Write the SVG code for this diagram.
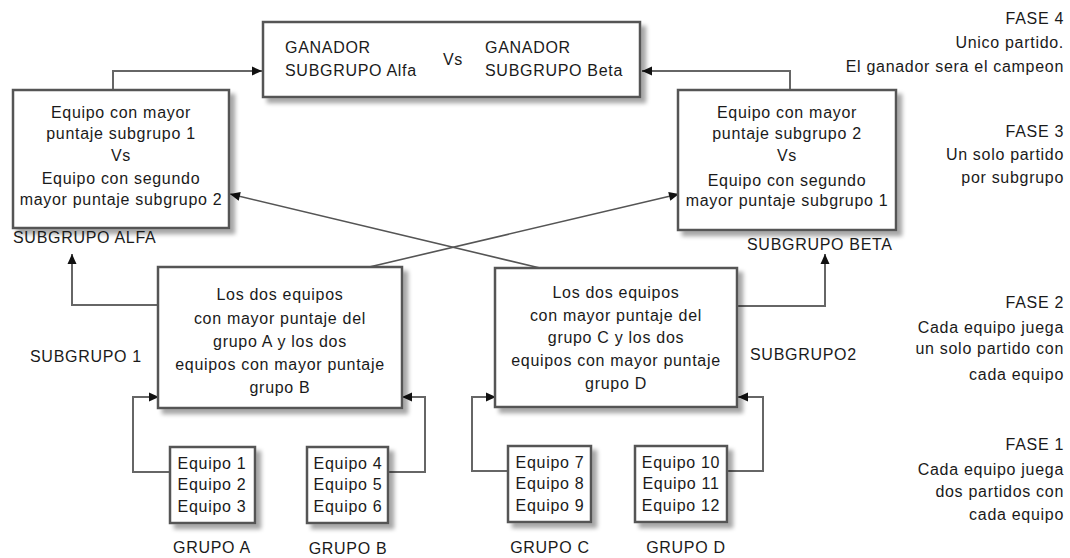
<svg xmlns="http://www.w3.org/2000/svg" width="1070" height="558" viewBox="0 0 1070 558">
<style>
text{font-family:"Liberation Sans",Arial,sans-serif;font-size:16px;letter-spacing:0.7px;fill:#1a1a1a}
.c{text-anchor:middle}
.e{text-anchor:end}
.box{fill:#fff;stroke:#555;stroke-width:2.5}
.ln{fill:none;stroke:#666;stroke-width:2}
.dg{fill:none;stroke:#555;stroke-width:1.6}
</style>
<defs>
<marker id="ah" viewBox="0 0 10 10" refX="10" refY="5" markerWidth="11" markerHeight="10" markerUnits="userSpaceOnUse" orient="auto"><path d="M0,0.5 L10,5 L0,9.5 z" fill="#111"/></marker>
<filter id="sh" x="-10%" y="-10%" width="130%" height="130%"><feGaussianBlur in="SourceAlpha" stdDeviation="2"/><feOffset dx="5" dy="5"/><feComponentTransfer><feFuncA type="linear" slope="0.35"/></feComponentTransfer><feMerge><feMergeNode/><feMergeNode in="SourceGraphic"/></feMerge></filter>
</defs>
<g id="connectors">
<path class="ln" d="M113,90 V71 H262" marker-end="url(#ah)"/>
<path class="ln" d="M790,90 V71 H642" marker-end="url(#ah)"/>
<path class="dg" d="M365,268 L679,194" marker-end="url(#ah)"/>
<path class="dg" d="M540,268 L230,194" marker-end="url(#ah)"/>
<path class="ln" d="M158,305 H72 V254" marker-end="url(#ah)"/>
<path class="ln" d="M737,306 H825 V254" marker-end="url(#ah)"/>
<path class="ln" d="M170,472 H133 V397 H159" marker-end="url(#ah)"/>
<path class="ln" d="M388,472 H425 V397 H402" marker-end="url(#ah)"/>
<path class="ln" d="M508,471 H472 V397 H496" marker-end="url(#ah)"/>
<path class="ln" d="M727,471 H763 V397 H738" marker-end="url(#ah)"/>
</g>
<g id="final">
<rect class="box" x="263" y="22" width="377" height="75" filter="url(#sh)"/>
<text x="285" y="53">GANADOR</text>
<text x="285" y="76">SUBGRUPO Alfa</text>
<text x="443" y="65">Vs</text>
<text x="485" y="53">GANADOR</text>
<text x="485" y="76">SUBGRUPO Beta</text>
</g>
<g id="alfa">
<rect class="box" x="13" y="90" width="216" height="138" filter="url(#sh)"/>
<text class="c" x="121" y="118">Equipo con mayor</text>
<text class="c" x="121" y="139">puntaje subgrupo 1</text>
<text class="c" x="121" y="161">Vs</text>
<text class="c" x="121" y="184">Equipo con segundo</text>
<text class="c" x="121" y="205">mayor puntaje subgrupo 2</text>
<text x="13" y="243">SUBGRUPO ALFA</text>
</g>
<g id="beta">
<rect class="box" x="678" y="90" width="218" height="140" filter="url(#sh)"/>
<text class="c" x="787" y="118">Equipo con mayor</text>
<text class="c" x="787" y="139">puntaje subgrupo 2</text>
<text class="c" x="787" y="161">Vs</text>
<text class="c" x="787" y="186">Equipo con segundo</text>
<text class="c" x="787" y="206">mayor puntaje subgrupo 1</text>
<text x="747" y="250">SUBGRUPO BETA</text>
</g>
<g id="sub1">
<rect class="box" x="158" y="267" width="244" height="141" filter="url(#sh)"/>
<text class="c" x="280" y="300">Los dos equipos</text>
<text class="c" x="280" y="324">con mayor puntaje del</text>
<text class="c" x="280" y="347">grupo A  y los dos</text>
<text class="c" x="280" y="370">equipos con mayor puntaje</text>
<text class="c" x="280" y="393">grupo B</text>
<text x="30" y="362">SUBGRUPO 1</text>
</g>
<g id="sub2">
<rect class="box" x="495" y="268" width="242" height="139" filter="url(#sh)"/>
<text class="c" x="616" y="298">Los dos equipos</text>
<text class="c" x="616" y="321">con mayor puntaje del</text>
<text class="c" x="616" y="343">grupo C y los dos</text>
<text class="c" x="616" y="366">equipos con mayor puntaje</text>
<text class="c" x="616" y="389">grupo D</text>
<text x="750" y="360">SUBGRUPO2</text>
</g>
<g id="grupoA">
<rect class="box" x="170" y="447" width="85" height="76" filter="url(#sh)"/>
<text class="c" x="212" y="469">Equipo 1</text>
<text class="c" x="212" y="490">Equipo 2</text>
<text class="c" x="212" y="512">Equipo 3</text>
<text class="c" x="212" y="553">GRUPO  A</text>
</g>
<g id="grupoB">
<rect class="box" x="307" y="447" width="81" height="76" filter="url(#sh)"/>
<text class="c" x="348" y="469">Equipo 4</text>
<text class="c" x="348" y="490">Equipo 5</text>
<text class="c" x="348" y="512">Equipo 6</text>
<text class="c" x="348" y="554">GRUPO  B</text>
</g>
<g id="grupoC">
<rect class="box" x="508" y="446" width="83" height="76" filter="url(#sh)"/>
<text class="c" x="550" y="468">Equipo 7</text>
<text class="c" x="550" y="489">Equipo 8</text>
<text class="c" x="550" y="511">Equipo 9</text>
<text class="c" x="550" y="553">GRUPO  C</text>
</g>
<g id="grupoD">
<rect class="box" x="635" y="446" width="92" height="76" filter="url(#sh)"/>
<text class="c" x="681" y="468">Equipo 10</text>
<text class="c" x="681" y="489">Equipo 11</text>
<text class="c" x="681" y="511">Equipo 12</text>
<text class="c" x="686" y="553">GRUPO  D</text>
</g>
<g id="fases">
<text class="e" x="1064" y="24">FASE 4</text>
<text class="e" x="1064" y="48">Unico partido.</text>
<text class="e" x="1064" y="72">El ganador sera el campeon</text>
<text class="e" x="1064" y="137">FASE 3</text>
<text class="e" x="1064" y="160">Un solo partido</text>
<text class="e" x="1064" y="183">por subgrupo</text>
<text class="e" x="1064" y="308">FASE 2</text>
<text class="e" x="1064" y="333">Cada equipo juega</text>
<text class="e" x="1064" y="354">un solo partido con</text>
<text class="e" x="1064" y="380">cada equipo</text>
<text class="e" x="1064" y="450">FASE 1</text>
<text class="e" x="1064" y="475">Cada equipo juega</text>
<text class="e" x="1064" y="497">dos partidos con</text>
<text class="e" x="1064" y="520">cada equipo</text>
</g>
</svg>
